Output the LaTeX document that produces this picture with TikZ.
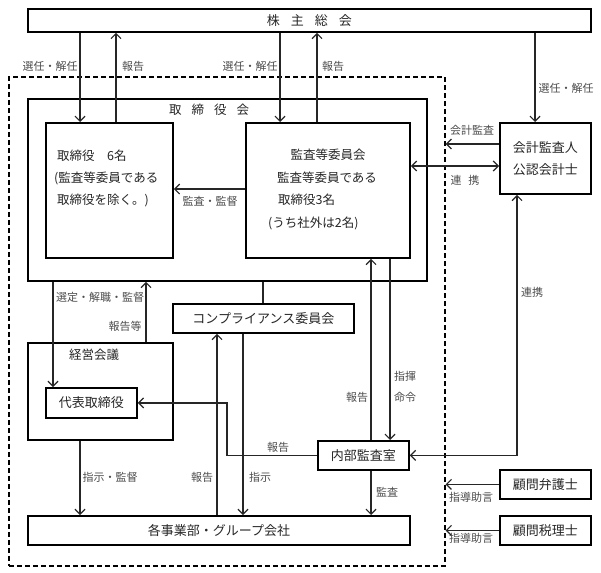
\documentclass[tikz,border=0pt]{standalone}
\usepackage{fontspec}
\setmainfont{Noto Sans CJK JP}
\usetikzlibrary{arrows.meta,calc}
\begin{document}
\begin{tikzpicture}[x=1pt,y=-1pt,
  box/.style={draw, line width=1.8pt, inner sep=0pt, anchor=north west, font=\fontsize{13}{15}\selectfont, text=black!85},
  conn/.style={line width=1.2pt, draw=black!85},
  arr/.style={conn, -{Straight Barb[length=5pt,width=10pt]}},
  barr/.style={conn, {Straight Barb[length=5pt,width=10pt]}-{Straight Barb[length=5pt,width=10pt]}},
  lbl/.style={font=\fontsize{11}{13}\selectfont, text=black!70, inner sep=0pt},
  txt/.style={font=\fontsize{12.5}{14}\selectfont, text=black!85, inner sep=0pt},
]
\useasboundingbox (0,0) rectangle (601,572);

% x and y guide coordinates
\foreach \x in {53,80,116,146,217,227,243,263,280,317,371,390,517,535} {\coordinate (c\x) at (\x,0);}
\foreach \y in {144,166,189} {\coordinate (r\y) at (0,\y);}

% dashed company boundary
\node[draw, dash pattern=on 5pt off 3pt, line width=1.6pt, inner sep=0pt, anchor=north west,
      minimum width=436pt, minimum height=489pt] (dashbox) at (8,76) {};

% boxes
\node[box, minimum width=563pt, minimum height=23pt] (kabu) at (27,8) {株\hspace{0.85em}主\hspace{0.85em}総\hspace{0.85em}会};
\node[box, minimum width=399pt, minimum height=182pt] (torikai) at (27,98) {};
\node[txt] (torikailbl) at (209,110) {取\hspace{0.8em}締\hspace{0.8em}役\hspace{0.8em}会};
\node[box, fill=white, minimum width=127pt, minimum height=135pt] (tori6) at (45,122) {};
\node[box, fill=white, minimum width=164pt, minimum height=135pt] (kansa) at (245,122) {};
\node[box, minimum width=91pt, minimum height=71pt, align=center, font=\fontsize{13}{22}\selectfont] (kaikei) at (499,122) {会計監査人\\公認会計士};
\node[box, minimum width=181pt, minimum height=29pt] (comp) at (172,303) {コンプライアンス委員会};
\node[box, minimum width=145pt, minimum height=97pt] (keiei) at (27,342) {};
\node[txt] (keieilbl) at (94,355) {経営会議};
\node[box, minimum width=91pt, minimum height=30pt] (daihyo) at (45,387) {代表取締役};
\node[box, fill=white, minimum width=91pt, minimum height=29pt] (naibu) at (317,440) {内部監査室};
\node[box, minimum width=91pt, minimum height=29pt] (bengo) at (499,469) {顧問弁護士};
\node[box, minimum width=91pt, minimum height=29pt] (zeiri) at (499,515) {顧問税理士};
\node[box, minimum width=382pt, minimum height=29pt] (jigyo) at (27,515) {各事業部・グループ会社};

% texts inside boxes
\node[txt, anchor=west] (t6a) at (57,156) {取締役\hspace{1em}6名};
\node[txt, anchor=west] (t6b) at (54,178) {(監査等委員である};
\node[txt, anchor=west] (t6c) at (57,200) {取締役を除く。)};
\node[txt] (tka) at (328,155) {監査等委員会};
\node[txt] (tkb) at (327,178) {監査等委員である};
\node[txt, anchor=west] (tkc) at (278,200) {取締役3名};
\node[txt, anchor=west] (tkd) at (268,223) {(うち社外は2名)};

% connectors
\draw[arr] (kabu.south -| c80) -- (tori6.north -| c80);
\draw[arr] (tori6.north -| c116) -- (kabu.south -| c116);
\draw[arr] (kabu.south -| c280) -- (kansa.north -| c280);
\draw[arr] (kansa.north -| c317) -- (kabu.south -| c317);
\draw[arr] (kabu.south -| c535) -- (kaikei.north -| c535);
\draw[arr] (kansa.west |- r189) -- (tori6.east |- r189);
\draw[barr] (kansa.east |- r166) -- (kaikei.west |- r166);
\draw[arr] (kaikei.west |- r144) -- (dashbox.east |- r144);
\draw[arr] (torikai.south -| c53) -- (daihyo.north -| c53);
\draw[arr] (keiei.north -| c146) -- (torikai.south -| c146);
\draw[conn] (torikai.south -| c263) -- (comp.north -| c263);
\draw[arr] (kansa.south -| c390) -- (naibu.north -| c390);
\draw[arr] (naibu.north -| c371) -- (kansa.south -| c371);
\draw[arr] (naibu.west) -| (c227 |- daihyo.east) -- (daihyo.east);
\draw[barr] (kaikei.south -| c517) |- (naibu.east);
\draw[arr] (keiei.south -| c80) -- (jigyo.north -| c80);
\draw[arr] (jigyo.north -| c217) -- (comp.south -| c217);
\draw[arr] (comp.south -| c243) -- (jigyo.north -| c243);
\draw[arr] (naibu.south -| c371) -- (jigyo.north -| c371);
\draw[arr] (bengo.west) -- (dashbox.east |- bengo.west);
\draw[arr] (zeiri.west) -- (dashbox.east |- zeiri.west);

% labels
\node[lbl] (l1) at (50,66) {選任・解任};
\node[lbl] (l2) at (133,66) {報告};
\node[lbl] (l3) at (250,66) {選任・解任};
\node[lbl] (l4) at (333,66) {報告};
\node[lbl] (l5) at (566,88) {選任・解任};
\node[lbl] (l6) at (472,130) {会計監査};
\node[lbl] (l7) at (465,180) {連\hspace{0.6em}携};
\node[lbl] (l8) at (210,201) {監査・監督};
\node[lbl] (l9) at (100,297) {選定・解職・監督};
\node[lbl] (l10) at (125,326) {報告等};
\node[lbl] (l11) at (357,397) {報告};
\node[lbl] (l12) at (405,376) {指揮};
\node[lbl] (l13) at (405,397) {命令};
\node[lbl] (l14) at (532,292) {連携};
\node[lbl] (l15) at (278,447) {報告};
\node[lbl] (l16) at (110,477) {指示・監督};
\node[lbl] (l17) at (202,477) {報告};
\node[lbl] (l18) at (260,477) {指示};
\node[lbl] (l19) at (387,492) {監査};
\node[lbl] (l20) at (471,497) {指導助言};
\node[lbl] (l21) at (471,538) {指導助言};
\end{tikzpicture}
\end{document}
